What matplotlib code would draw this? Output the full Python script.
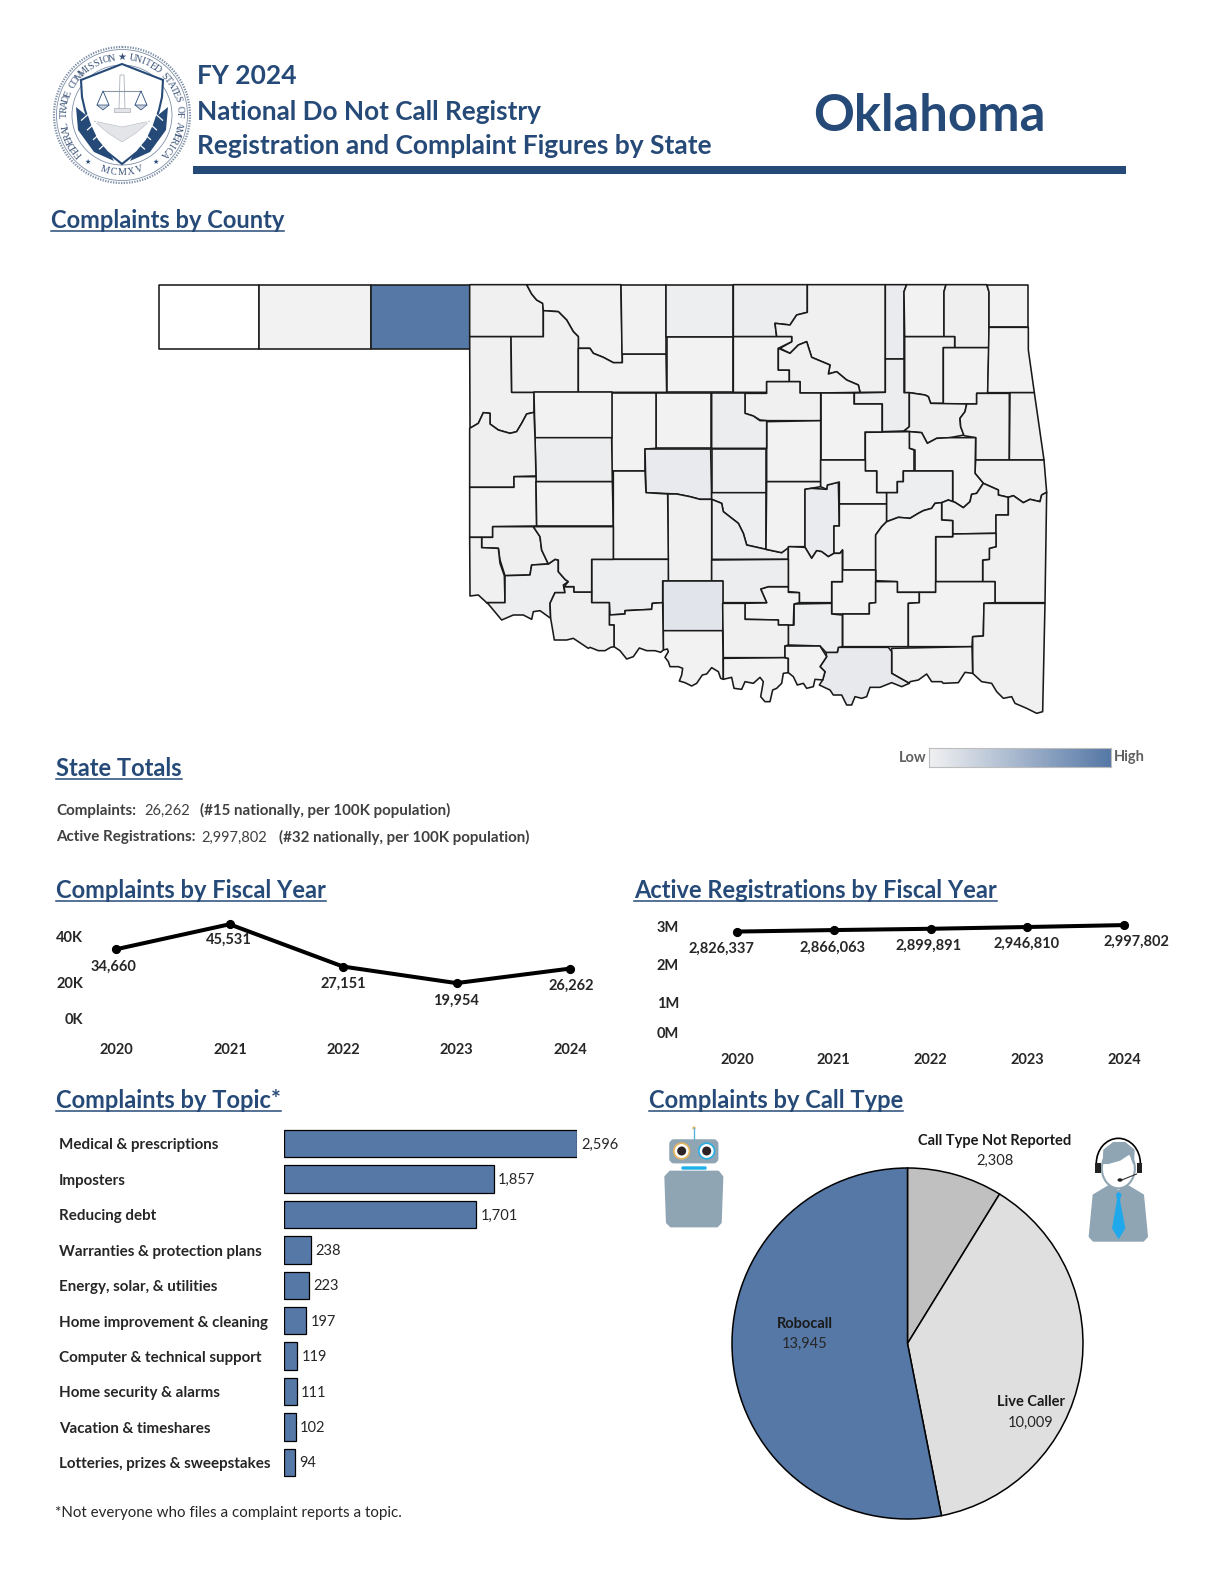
import numpy as np
import matplotlib
matplotlib.use('Agg')
import matplotlib.pyplot as plt
from matplotlib.colors import LinearSegmentedColormap
from matplotlib.patches import Polygon, Circle, Ellipse, FancyBboxPatch, Rectangle, Arc

plt.rcParams['font.family'] = ['Lato', 'DejaVu Sans']

W, H = 1224, 1584
NAVY = '#264a78'
BLUE = '#5578a6'
TEXT = '#262626'

# chart values
years = ['2020', '2021', '2022', '2023', '2024']
complaints_by_year = [34660, 45531, 27151, 19954, 26262]
registrations_by_year = [2826337, 2866063, 2899891, 2946810, 2997802]
topics = ['Medical & prescriptions', 'Imposters', 'Reducing debt', 'Warranties & protection plans',
          'Energy, solar, & utilities', 'Home improvement & cleaning', 'Computer & technical support',
          'Home security & alarms', 'Vacation & timeshares', 'Lotteries, prizes & sweepstakes']
topic_counts = [2596, 1857, 1701, 238, 223, 197, 119, 111, 102, 94]
call_types = ['Call Type Not Reported', 'Live Caller', 'Robocall']
call_counts = [2308, 10009, 13945]

county_names = ['Cimarron', 'Texas', 'Beaver', 'Harper', 'Woods', 'Ellis', 'Woodward', 'Major', 'Alfalfa', 'Grant',
                'Kay', 'Osage', 'Garfield', 'Noble', 'Pawnee', 'Washington', 'Nowata', 'Craig', 'Ottawa', 'Rogers',
                'Mayes', 'Delaware', 'Tulsa', 'Wagoner', 'Cherokee', 'Adair', 'Sequoyah', 'Muskogee', 'Okmulgee',
                'Creek', 'Payne', 'Lincoln', 'Logan', 'Kingfisher', 'Blaine', 'Dewey', 'Custer', 'Roger Mills',
                'Beckham', 'Washita', 'Canadian', 'Oklahoma', 'Cleveland', 'McClain', 'Grady', 'Pottawatomie',
                'Seminole', 'Okfuskee', 'Hughes', 'McIntosh', 'Haskell', 'Le Flore', 'Latimer', 'Pittsburg', 'Coal',
                'Atoka', 'Pushmataha', 'McCurtain', 'Choctaw', 'Bryan', 'Johnston', 'Pontotoc', 'Murray', 'Garvin',
                'Caddo', 'Comanche', 'Stephens', 'Carter', 'Jefferson', 'Love', 'Marshall', 'Cotton', 'Greer',
                'Harmon', 'Jackson', 'Tillman', 'Kiowa']
county_shades = [0.0, 0.08, 1.0, 0.09, 0.08, 0.09, 0.09, 0.08, 0.08, 0.11,
                 0.12, 0.09, 0.08, 0.08, 0.09, 0.13, 0.08, 0.10, 0.08, 0.09,
                 0.08, 0.08, 0.12, 0.10, 0.10, 0.09, 0.09, 0.08, 0.08,
                 0.08, 0.09, 0.08, 0.12, 0.08, 0.08, 0.08, 0.12, 0.10,
                 0.08, 0.08, 0.14, 0.12, 0.11, 0.12, 0.09, 0.08,
                 0.13, 0.08, 0.08, 0.11, 0.10, 0.09, 0.09, 0.08, 0.08,
                 0.08, 0.08, 0.09, 0.09, 0.15, 0.11, 0.08, 0.08, 0.12,
                 0.08, 0.11, 0.19, 0.09, 0.08, 0.08, 0.08, 0.08, 0.10,
                 0.09, 0.11, 0.10, 0.10]
county_outlines = [
    [(-1294, 44), (-992, 44), (-992, 238), (-1294, 238)],
    [(-992, 44), (-658, 44), (-658, 238), (-992, 238)],
    [(-658, 44), (-361, 44), (-361, 238), (-658, 238)],
    [(-361, 44), (-190, 44), (-175, 72), (-160, 90), (-142, 100), (-140, 122), (-140, 200), (-361, 200)],
    [(-190, 44), (93, 44), (97, 278), (70, 278), (40, 262), (30, 258), (10, 250), (0, 235), (-35, 235), (-35, 200),
     (-50, 185), (-70, 150), (-95, 125), (-140, 122), (-142, 100), (-160, 90), (-175, 72)],
    [(-361, 200), (-237, 200), (-235, 367), (-168, 367), (-168, 427), (-190, 432), (-205, 460), (-220, 485),
     (-240, 490), (-275, 480), (-300, 462), (-300, 430), (-320, 428), (-335, 460), (-360, 475)],
    [(-237, 200), (-140, 200), (-140, 122), (-95, 125), (-70, 150), (-50, 185), (-35, 200), (-35, 367), (-235, 367)],
    [(-35, 235), (0, 235), (10, 250), (30, 258), (40, 262), (70, 278), (97, 278), (97, 252), (228, 252), (230, 367),
     (-35, 367)],
    [(93, 44), (228, 44), (228, 252), (97, 252)],
    [(228, 44), (430, 44), (430, 200), (228, 200)],
    [(430, 44), (652, 44), (652, 127), (620, 135), (600, 165), (555, 160), (560, 200), (430, 200)],
    [(652, 44), (886, 44), (886, 367), (810, 367), (805, 345), (770, 330), (740, 305), (715, 312), (720, 285),
     (665, 262), (650, 215), (625, 225), (600, 250), (570, 235), (605, 215), (605, 200), (560, 200), (555, 160),
     (600, 165), (620, 135), (652, 127)],
    [(230, 200), (430, 200), (430, 367), (230, 367)],
    [(430, 200), (560, 200), (605, 200), (605, 215), (565, 235), (565, 300), (598, 300), (598, 335), (530, 335),
     (530, 367), (430, 367)],
    [(565, 235), (600, 250), (625, 225), (650, 215), (665, 262), (720, 285), (715, 312), (740, 305), (770, 330),
     (805, 345), (810, 367), (692, 369), (630, 369), (630, 335), (598, 335), (598, 300), (565, 300)],
    [(886, 44), (950, 44), (942, 65), (942, 267), (886, 267)],
    [(950, 44), (1068, 44), (1062, 65), (1062, 200), (944, 200), (942, 65)],
    [(1068, 44), (1190, 44), (1197, 65), (1197, 233), (1094, 233), (1094, 200), (1062, 200), (1062, 65)],
    [(1190, 44), (1315, 44), (1315, 172), (1197, 172), (1197, 65)],
    [(944, 200), (1094, 200), (1094, 233), (1060, 233), (1060, 400), (1022, 400), (1015, 380), (1005, 375),
     (958, 368), (944, 368)],
    [(1060, 233), (1197, 233), (1193, 370), (1160, 370), (1160, 402), (1060, 402)],
    [(1197, 172), (1315, 172), (1315, 240), (1333, 368), (1193, 368)],
    [(886, 267), (942, 267), (942, 368), (958, 368), (958, 470), (942, 483), (877, 485), (877, 402), (793, 402),
     (793, 369), (886, 367)],
    [(958, 368), (1005, 375), (1015, 380), (1022, 400), (1130, 402), (1125, 425), (1110, 445), (1112, 470),
     (1122, 495), (1080, 503), (1040, 505), (1012, 520), (995, 488), (942, 483), (958, 470)],
    [(1130, 402), (1160, 402), (1160, 370), (1258, 370), (1258, 570), (1157, 570), (1157, 503), (1122, 497),
     (1112, 470), (1110, 445), (1125, 425)],
    [(1260, 368), (1333, 368), (1362, 570), (1258, 570)],
    [(1157, 570), (1362, 570), (1370, 667), (1355, 675), (1350, 695), (1320, 688), (1300, 698), (1270, 677),
     (1255, 682), (1225, 675), (1225, 660), (1180, 640), (1155, 610)],
    [(958, 485), (995, 488), (1012, 520), (1040, 505), (1080, 503), (1157, 503), (1155, 610), (1180, 640), (1160, 670),
     (1145, 673), (1140, 695), (1120, 713), (1095, 697), (1088, 695), (1088, 603), (975, 603), (975, 540), (958, 535)],
    [(826, 487), (958, 485), (958, 535), (972, 540), (972, 603), (940, 603), (940, 635), (922, 635), (922, 668),
     (860, 668), (860, 603), (826, 603)],
    [(692, 369), (793, 369), (793, 402), (877, 402), (877, 487), (826, 487), (826, 570), (692, 570)],
    [(465, 370), (530, 370), (530, 335), (630, 335), (630, 369), (692, 369), (692, 452), (530, 452), (510, 450),
     (490, 438), (465, 430)],
    [(530, 455), (692, 452), (692, 635), (530, 635)],
    [(365, 369), (465, 369), (465, 430), (490, 438), (510, 452), (530, 452), (530, 535), (365, 535)],
    [(198, 369), (362, 369), (362, 535), (198, 535)],
    [(65, 369), (198, 369), (198, 535), (165, 537), (165, 603), (65, 603)],
    [(-168, 367), (65, 367), (65, 503), (-165, 503)],
    [(-165, 503), (65, 503), (67, 635), (-162, 635)],
    [(-361, 475), (-335, 460), (-320, 428), (-300, 430), (-300, 462), (-275, 480), (-240, 490), (-220, 485),
     (-205, 460), (-190, 432), (-168, 427), (-165, 503), (-162, 618), (-228, 620), (-228, 652), (-361, 652)],
    [(-361, 652), (-228, 652), (-228, 620), (-162, 620), (-160, 768), (-292, 770), (-292, 802), (-361, 802)],
    [(-162, 635), (67, 635), (70, 768), (-160, 768)],
    [(165, 537), (362, 537), (365, 688), (330, 688), (300, 680), (260, 672), (168, 668)],
    [(365, 537), (528, 537), (528, 668), (365, 668)],
    [(365, 668), (528, 668), (528, 838), (470, 825), (460, 790), (445, 760), (400, 725), (395, 700), (365, 688)],
    [(365, 688), (395, 700), (400, 725), (445, 760), (460, 790), (470, 825), (528, 838), (575, 848), (595, 830),
     (595, 868), (365, 868)],
    [(233, 672), (260, 672), (300, 680), (330, 688), (365, 688), (365, 933), (235, 933)],
    [(530, 635), (692, 635), (692, 650), (645, 658), (645, 830), (600, 830), (575, 848), (528, 838)],
    [(645, 658), (665, 655), (710, 658), (712, 645), (745, 636), (748, 768), (732, 768), (732, 850), (715, 860),
     (695, 845), (680, 842), (665, 865), (645, 832)],
    [(692, 570), (826, 570), (826, 603), (860, 603), (860, 668), (890, 668), (890, 702), (748, 702), (748, 636),
     (712, 645), (710, 658), (692, 650)],
    [(748, 702), (890, 702), (890, 755), (875, 770), (857, 795), (857, 900), (758, 900), (758, 840), (750, 850),
     (732, 850), (732, 768), (748, 768)],
    [(922, 668), (922, 635), (940, 635), (940, 603), (1088, 603), (1088, 695), (1075, 690), (1055, 698), (1035, 700),
     (1025, 715), (1000, 722), (985, 730), (960, 745), (925, 742), (890, 755), (890, 668)],
    [(1055, 698), (1075, 690), (1095, 697), (1120, 713), (1140, 695), (1145, 673), (1160, 670), (1180, 640),
     (1225, 660), (1225, 675), (1255, 682), (1255, 735), (1218, 735), (1218, 790), (1088, 792), (1088, 752),
     (1055, 750)],
    [(1255, 682), (1270, 677), (1300, 698), (1320, 688), (1350, 695), (1355, 675), (1370, 667), (1365, 998),
     (1215, 998), (1215, 935), (1178, 935), (1178, 870), (1198, 868), (1198, 835), (1218, 830), (1218, 735),
     (1255, 735)],
    [(1088, 792), (1218, 790), (1218, 830), (1198, 835), (1198, 868), (1178, 870), (1178, 935), (1037, 935),
     (1037, 800), (1088, 800)],
    [(857, 795), (875, 770), (890, 755), (925, 742), (960, 745), (985, 730), (1000, 722), (1025, 715), (1035, 700),
     (1055, 698), (1055, 750), (1088, 752), (1088, 800), (1037, 800), (1037, 967), (922, 967), (922, 935), (857, 932)],
    [(757, 900), (857, 900), (857, 998), (838, 1000), (838, 1032), (725, 1032), (725, 935), (757, 935)],
    [(857, 935), (922, 935), (922, 967), (988, 967), (988, 998), (955, 1000), (955, 1130), (758, 1130), (758, 1032),
     (838, 1032), (838, 1000), (857, 998)],
    [(988, 967), (1037, 967), (1037, 935), (1215, 935), (1215, 998), (1182, 1000), (1180, 1098), (1148, 1100),
     (1146, 1130), (955, 1130), (955, 1000), (988, 998)],
    [(1182, 1000), (1365, 1000), (1358, 1325), (1340, 1330), (1310, 1315), (1275, 1300), (1265, 1280), (1240, 1285),
     (1220, 1265), (1205, 1240), (1175, 1235), (1148, 1210), (1148, 1100), (1180, 1098)],
    [(905, 1135), (1146, 1130), (1148, 1210), (1125, 1207), (1105, 1238), (1060, 1240), (1055, 1235), (1025, 1235),
     (1010, 1212), (985, 1230), (960, 1235), (958, 1240), (905, 1210)],
    [(745, 1132), (895, 1132), (905, 1145), (905, 1210), (958, 1240), (935, 1250), (905, 1238), (870, 1252),
     (840, 1252), (830, 1280), (815, 1285), (795, 1280), (785, 1305), (770, 1305), (755, 1275), (730, 1275),
     (720, 1260), (688, 1245), (698, 1230), (705, 1205), (690, 1190), (710, 1160), (708, 1147), (742, 1147)],
    [(612, 1002), (725, 1000), (725, 1032), (757, 1035), (757, 1130), (745, 1132), (742, 1147), (708, 1147),
     (690, 1128), (595, 1125), (595, 1065), (612, 1065)],
    [(595, 830), (600, 830), (645, 832), (665, 865), (680, 842), (695, 845), (715, 860), (732, 850), (750, 850),
     (757, 840), (757, 935), (725, 935), (725, 998), (628, 998), (628, 968), (595, 965)],
    [(512, 957), (535, 950), (595, 950), (595, 967), (628, 968), (628, 998), (612, 1002), (610, 1065), (565, 1065),
     (565, 1050), (465, 1048), (465, 1000), (530, 998)],
    [(365, 870), (595, 868), (595, 950), (535, 950), (512, 957), (530, 998), (398, 998), (398, 933), (365, 933)],
    [(70, 603), (165, 603), (168, 668), (233, 672), (235, 868), (70, 868)],
    [(5, 868), (235, 868), (235, 933), (218, 933), (218, 998), (187, 1000), (185, 1018), (105, 1022), (105, 1032),
     (60, 1035), (58, 998), (5, 998)],
    [(218, 933), (398, 933), (398, 1082), (220, 1082)],
    [(398, 1000), (465, 1000), (465, 1048), (565, 1050), (565, 1065), (595, 1065), (595, 1125), (585, 1128),
     (585, 1163), (400, 1163)],
    [(220, 1082), (398, 1082), (400, 1228), (392, 1225), (385, 1205), (365, 1193), (350, 1212), (337, 1215),
     (320, 1240), (305, 1248), (285, 1238), (268, 1233), (275, 1215), (278, 1195), (265, 1190), (240, 1190),
     (235, 1175), (225, 1162), (235, 1145), (232, 1137), (220, 1140)],
    [(400, 1165), (585, 1163), (595, 1165), (595, 1208), (580, 1210), (575, 1240), (560, 1255), (548, 1260),
     (540, 1295), (525, 1295), (512, 1280), (520, 1235), (510, 1222), (490, 1240), (465, 1235), (455, 1258),
     (432, 1255), (425, 1222), (400, 1228)],
    [(585, 1128), (690, 1128), (710, 1160), (690, 1190), (705, 1205), (698, 1230), (675, 1228), (670, 1250),
     (650, 1255), (640, 1240), (622, 1245), (610, 1220), (595, 1208), (595, 1165), (585, 1163)],
    [(58, 1035), (105, 1032), (105, 1022), (185, 1018), (187, 1000), (218, 998), (220, 1140), (212, 1147), (195, 1142),
     (170, 1142), (148, 1134), (130, 1160), (110, 1167), (90, 1142), (72, 1130), (72, 1065), (58, 1065)],
    [(-292, 770), (-170, 770), (-150, 800), (-145, 840), (-125, 882), (-175, 885), (-180, 915), (-255, 917),
     (-270, 870), (-275, 835), (-325, 833), (-325, 802), (-292, 802)],
    [(-361, 802), (-325, 802), (-325, 833), (-275, 835), (-270, 880), (-257, 917), (-255, 998), (-310, 998),
     (-335, 975), (-360, 978)],
    [(-255, 917), (-180, 915), (-175, 885), (-125, 882), (-105, 868), (-95, 870), (-95, 905), (-75, 928), (-65, 935),
     (-80, 945), (-75, 968), (-105, 968), (-120, 1000), (-118, 1045), (-125, 1040), (-150, 1022), (-170, 1025),
     (-175, 1048), (-200, 1035), (-230, 1035), (-265, 1050), (-305, 1002), (-310, 998), (-255, 998)],
    [(-105, 968), (-120, 1000), (-118, 1045), (-107, 1110), (-70, 1110), (-50, 1105), (-5, 1135), (0, 1132),
     (25, 1142), (45, 1142), (62, 1132), (72, 1130), (72, 1065), (58, 1065), (58, 998), (5, 998), (5, 966), (-48, 966),
     (-48, 950), (-78, 950), (-75, 968)],
    [(-170, 770), (70, 770), (70, 868), (5, 868), (5, 966), (-48, 966), (-48, 950), (-78, 950), (-65, 935), (-75, 928),
     (-95, 905), (-95, 870), (-105, 868), (-125, 882), (-145, 840), (-150, 800)],
]


def px_axes(x0, y0, x1, y1):
    # axes placed by page pixels, y counted from the top
    return fig.add_axes([x0 / W, 1 - y1 / H, (x1 - x0) / W, (y1 - y0) / H])


def label(x, y, s, size=10.5, weight='normal', color=TEXT, ha='left', **kw):
    # Lato sits a little high next to the reference font
    return page.text(x, y + 1.5, s, fontsize=size, fontweight=weight, color=color, ha=ha, va='center', **kw)


def heading(x, y, s, size=17):
    t = label(x, y, s, size=size, weight='bold', color=NAVY)
    bb = t.get_window_extent(fig.canvas.get_renderer())
    page.plot([x, x + bb.width], [y + 12, y + 12], color=NAVY, lw=1.1)


def arc_text(s, cx, cy, r, start, end, size=7.2, flip=False):
    for ch, a in zip(s, np.linspace(start, end, len(s))):
        rad = np.radians(a)
        rot = a + 90 if flip else a - 90
        page.text(cx + r * np.cos(rad), cy - r * np.sin(rad), ch, fontsize=size, color='#3c5478', rotation=rot,
                  ha='center', va='center', family=['Liberation Serif', 'DejaVu Sans'], rotation_mode='anchor')


def draw_seal():
    cx, cy = 122, 115
    page.add_patch(Circle((cx, cy), 68, fc='none', ec='#7f8fa6', lw=1.6, ls=(0, (0.6, 0.6))))
    page.add_patch(Circle((cx, cy), 65.5, fc='none', ec='#7f8fa6', lw=0.6))
    page.add_patch(Circle((cx, cy), 50, fc='none', ec='#7f8fa6', lw=0.6))
    arc_text('FEDERAL TRADE COMMISSION \u2605 UNITED STATES OF AMERICA', cx, cy, 57.5, 222, -42)
    arc_text('MCMXV', cx, cy, 57.5, 252, 288, flip=True)
    page.text(cx - 34, cy + 47, '\u2605', fontsize=5, color=NAVY, ha='center', va='center', family='DejaVu Sans')
    page.text(cx + 34, cy + 47, '\u2605', fontsize=5, color=NAVY, ha='center', va='center', family='DejaVu Sans')
    # laurel behind the shield
    for side in (-1, 1):
        page.add_patch(Polygon([(cx + side * 46, cy - 8), (cx + side * 44, cy + 15), (cx + side * 28, cy + 37),
                                (cx + side * 8, cy + 46), (cx + side * 30, cy + 5)], fc=NAVY, ec='none'))
        for t in (0.15, 0.35, 0.55, 0.75):
            lx = cx + side * (45 - 30 * t)
            ly = cy - 2 + 48 * t
            page.plot([lx, lx - side * 9], [ly, ly - 8], color='white', lw=0.9)
    # shield
    sx = np.array([0, 41, 40, 37, 32, 25, 15, 0, -15, -25, -32, -37, -40, -41])
    sy = np.array([-51, -35, -18, -5, 10, 25, 37, 49, 37, 25, 10, -5, -18, -35])
    page.add_patch(Polygon(np.c_[cx + sx, cy + sy], fc='white', ec=NAVY, lw=1.5))
    # scales
    page.plot([cx - 19, cx + 19], [cy - 24, cy - 24], color='#8a94a3', lw=0.8)
    page.add_patch(Polygon([(cx - 2, cy - 40), (cx + 2, cy - 40), (cx + 3, cy - 6), (cx - 3, cy - 6)],
                           fc='white', ec='#aab1ba', lw=0.6))
    page.add_patch(Rectangle((cx - 8, cy - 7), 16, 4, fc='#e2e4e8', ec='#aab1ba', lw=0.5))
    for dx in (-19, 19):
        page.plot([cx + dx - 6, cx + dx, cx + dx + 6], [cy - 10, cy - 24, cy - 10], color=NAVY, lw=0.6)
        page.add_patch(Polygon([(cx + dx - 6, cy - 10), (cx + dx + 6, cy - 10), (cx + dx, cy - 5)],
                               fc='#c9d0da', ec=NAVY, lw=0.5))
    # wings
    page.add_patch(Polygon([(cx - 28, cy + 6), (cx, cy + 12), (cx + 28, cy + 6), (cx + 14, cy + 18), (cx, cy + 27),
                            (cx - 14, cy + 18)], fc='#e3e5e8', ec='#b5bac2', lw=0.4))


def z4(x, y):
    # icon coordinates come from a 3x crop starting at (640, 1100)
    return 640 + x / 3, 1100 + y / 3


def draw_robot():
    grey = '#8fa5b3'
    x, y = z4(88, 118)
    page.add_patch(FancyBboxPatch((x + 2, y + 2), 45, 20, boxstyle='round,pad=0,rounding_size=3', fc=grey, ec=grey, lw=3))
    page.plot(*zip(z4(162, 84), z4(162, 118)), color='#5bb5dc', lw=1)
    page.add_patch(Circle(z4(162, 84), 1.6, fc='#e8b45e', ec='none'))
    for ex, ring in ((125, '#e8b45e'), (200, '#29aee3')):
        page.add_patch(Circle(z4(ex, 153), 7.8, fc='white', ec=ring, lw=1.2))
        page.add_patch(Circle(z4(ex, 153), 4.5, fc='#2b2326', ec='none'))
    x, y = z4(123, 198)
    page.add_patch(FancyBboxPatch((x + 1, y + 1), 24, 2, boxstyle='round,pad=0,rounding_size=1', fc='#1fb0ea', ec='#1fb0ea', lw=1))
    body = [z4(90, 214), z4(235, 214), z4(248, 230), z4(243, 368), z4(232, 380), z4(92, 380), z4(80, 368), z4(75, 230)]
    page.add_patch(Polygon(body, fc=grey, ec=grey, lw=1, joinstyle='round'))


def draw_agent():
    grey = '#8fa5b3'
    body = [z4(1360, 285), z4(1405, 258), z4(1435, 272), z4(1465, 258), z4(1510, 285), z4(1522, 410), z4(1510, 423),
            z4(1360, 423), z4(1348, 410)]
    page.add_patch(Polygon(body, fc=grey, ec=grey, lw=1, joinstyle='round'))
    page.add_patch(Ellipse(z4(1435, 205), 33, 40, fc='white', ec=grey, lw=1.5))
    hair = [z4(1390, 190), z4(1392, 150), z4(1420, 128), z4(1455, 128), z4(1482, 150), z4(1480, 190), z4(1470, 160),
            z4(1440, 180), z4(1405, 190)]
    page.add_patch(Polygon(hair, fc=grey, ec=grey, lw=1, joinstyle='round'))
    page.add_patch(Arc(z4(1435, 190), 44, 50, theta1=180, theta2=360, color='black', lw=1.2))
    for ex in (1365, 1490):
        x, y = z4(ex, 190)
        page.add_patch(Rectangle((x, y), 5.5, 9.5, fc='#222222', ec='none'))
    page.plot(*zip(z4(1490, 222), z4(1445, 240)), color='#333333', lw=0.8)
    page.add_patch(Ellipse(z4(1440, 240), 5, 3.5, fc='#222222', ec='none'))
    tie = [z4(1428, 282), z4(1436, 276), z4(1445, 282), z4(1440, 300), z4(1456, 385), z4(1436, 418), z4(1416, 385),
           z4(1431, 300)]
    page.add_patch(Polygon(tie, fc='#1fa9ec', ec='none'))


fig = plt.figure(figsize=(W / 100, H / 100), dpi=100, facecolor='white')
page = fig.add_axes([0, 0, 1, 1], zorder=5)
page.set_xlim(0, W)
page.set_ylim(H, 0)
page.axis('off')
page.patch.set_alpha(0)

# header
draw_seal()
label(197, 74, 'FY 2024', size=19, weight='bold', color=NAVY)
label(197, 110, 'National Do Not Call Registry', size=18.8, weight='bold', color=NAVY)
label(197, 145, 'Registration and Complaint Figures by State', size=19, weight='bold', color=NAVY)
label(929, 115, 'Oklahoma', size=36.5, weight='bold', color=NAVY, ha='center')
page.add_patch(Rectangle((193, 165.5), 933, 8.5, fc=NAVY, ec='none'))

# map
heading(51, 219, 'Complaints by County')
cmap = LinearSegmentedColormap.from_list('county', [(0, 'white'), (0.09, '#f0f0f1'), (0.2, '#dfe3e9'), (1, BLUE)])
ax_map = px_axes(150, 270, 1060, 720)
ax_map.set_xlim(-1320, 1410)
ax_map.set_ylim(1350, 0)
ax_map.axis('off')
for outline, shade in zip(county_outlines, county_shades):
    ax_map.add_patch(Polygon(outline, closed=True, fc=cmap(shade), ec='#1a1a1a', lw=1.15, joinstyle='round'))

# legend
ax_leg = px_axes(929, 748, 1111, 767)
ax_leg.imshow(np.linspace(0.09, 1, 256).reshape(1, -1), cmap=cmap, vmin=0, vmax=1, aspect='auto')
ax_leg.set_xticks([])
ax_leg.set_yticks([])
for s in ax_leg.spines.values():
    s.set_color('#bdbdbd')
label(899, 757, 'Low', size=10.5, color='#606060', weight='bold')
label(1114, 756, 'High', size=10.5, color='#606060', weight='bold')

# state totals
heading(56, 767, 'State Totals')
label(56, 809, 'Complaints:', size=10.9, weight='bold', color='#404040')
label(144, 809, '26,262', size=10.5, color='#404040')
label(200, 809, '(#15 nationally, per 100K population)', size=10.9, weight='bold', color='#404040')
label(56, 836, 'Active Registrations:', size=10.9, weight='bold', color='#404040')
label(201, 836, '2,997,802', size=10.5, color='#404040')
label(279, 836, '(#32 nationally, per 100K population)', size=10.9, weight='bold', color='#404040')

# complaints by fiscal year
heading(56, 889, 'Complaints by Fiscal Year')
x_pos = np.arange(len(years))
ax_c = px_axes(116, 914, 570, 1029)
ax_c.set_xlim(0, 4)
ax_c.set_ylim(0, 50000)
ax_c.axis('off')
ax_c.plot(x_pos, complaints_by_year, color='black', lw=2.9, marker='o', ms=5.6, clip_on=False)
c_label_xy = [(114, 965), (229, 938), (343, 982), (456, 999), (571, 984)]
for (lx, ly), v in zip(c_label_xy, complaints_by_year):
    label(lx, ly, f'{v:,}', weight='bold', ha='center')
for lx, yr in zip([116, 230, 343, 456, 570], years):
    label(lx, 1048, yr, weight='bold', ha='center')
for ly, s in zip([937, 983, 1019], ['40K', '20K', '0K']):
    label(83, ly, s, weight='bold', ha='right')

# registrations by fiscal year
heading(634, 889, 'Active Registrations by Fiscal Year')
ax_r = px_axes(737, 925, 1124, 1038.5)
ax_r.set_xlim(0, 4)
ax_r.set_ylim(0, 3000000)
ax_r.axis('off')
ax_r.plot(x_pos, registrations_by_year, color='black', lw=2.9, marker='o', ms=5.6, clip_on=False)
r_label_xy = [(721, 947), (833, 946), (929, 944), (1027, 942), (1136, 940)]
for (lx, ly), v in zip(r_label_xy, registrations_by_year):
    label(lx, ly, f'{v:,}', weight='bold', ha='center')
for lx, yr in zip([737, 833, 930, 1027, 1124], years):
    label(lx, 1058.5, yr, weight='bold', ha='center')
for ly, s in zip([927, 965, 1003, 1032], ['3M', '2M', '1M', '0M']):
    label(679, ly, s, weight='bold', ha='right')

# topics
heading(56, 1099, 'Complaints by Topic*')
ax_t = px_axes(284, 1126, 577, 1480)
ax_t.set_xlim(0, 2596)
ax_t.set_ylim(9.5, -0.5)
ax_t.axis('off')
ax_t.barh(np.arange(len(topics)), topic_counts, height=0.77, color=BLUE, edgecolor='black', lw=0.9)
for i, (name, v) in enumerate(zip(topics, topic_counts)):
    yy = 1144 + i * 35.4
    label(59, yy, name, size=10.9, weight='bold')
    ax_t.annotate(f'{v:,}', (v, i), xytext=(3.2, -0.8), textcoords='offset points', va='center', fontsize=10.5, color=TEXT,
                  annotation_clip=False)
label(55, 1512, '*Not everyone who files a complaint reports a topic.', size=10.9)

# call type pie
heading(649, 1099, 'Complaints by Call Type')
ax_p = px_axes(732, 1168, 1083, 1519)
ax_p.pie(call_counts, colors=['#c1c0c1', '#e0dfe0', BLUE], startangle=90, counterclock=False, radius=1,
         wedgeprops={'edgecolor': 'black', 'linewidth': 1.1})
ax_p.set_xlim(-1, 1)
ax_p.set_ylim(-1, 1)
pie_label_xy = [(995, 1139, 1159), (1031, 1401, 1421), (805, 1322, 1342)]
for (lx, y1, y2), name, v in zip(pie_label_xy, call_types, call_counts):
    label(lx, y1, name, weight='bold', ha='center', color='#1a1a1a')
    label(lx, y2, f'{v:,}', ha='center')
draw_robot()
draw_agent()

fig.savefig('out.png', dpi=100)
